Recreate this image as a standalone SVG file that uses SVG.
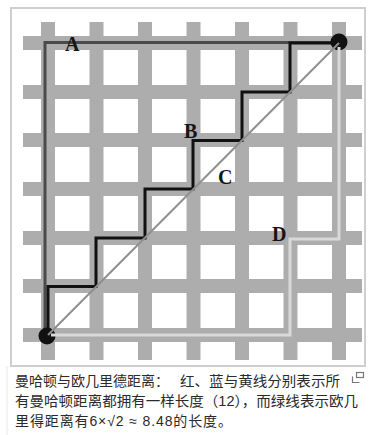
<svg xmlns="http://www.w3.org/2000/svg" width="371" height="435" viewBox="0 0 371 435">
<style>
.bar{fill:#adadad}
.lbl{font-family:"Liberation Serif","Times New Roman",serif;font-size:20px;font-weight:bold;fill:#151515}
.cap{font-family:"Liberation Sans","Noto Sans CJK SC",sans-serif;font-size:14px;fill:#2a2a2a}
</style>
<rect width="371" height="435" fill="#fff"/>
<rect x="11" y="8" width="354" height="358" fill="#fff" stroke="#cfcfcf" stroke-width="2"/>
<line x1="7" y1="366" x2="7" y2="435" stroke="#e6e6e6" stroke-width="1"/>
<g id="grid">
<rect class="bar" x="23" y="36" width="339" height="14"/>
<rect class="bar" x="23" y="85" width="339" height="14"/>
<rect class="bar" x="23" y="133" width="339" height="14"/>
<rect class="bar" x="23" y="182" width="339" height="14"/>
<rect class="bar" x="23" y="231" width="339" height="14"/>
<rect class="bar" x="23" y="279" width="339" height="14"/>
<rect class="bar" x="23" y="328" width="339" height="14"/>
<rect class="bar" x="41" y="22" width="14" height="338"/>
<rect class="bar" x="89.5" y="22" width="14" height="338"/>
<rect class="bar" x="138" y="22" width="14" height="338"/>
<rect class="bar" x="186.5" y="22" width="14" height="338"/>
<rect class="bar" x="235" y="22" width="14" height="338"/>
<rect class="bar" x="283.5" y="22" width="14" height="338"/>
<rect class="bar" x="332" y="22" width="14" height="338"/>
</g>
<g id="connectors" fill="none" stroke-linejoin="miter">
<path id="pathA" d="M45,335 V42.5 H336" stroke="#4a4a4a" stroke-width="3"/>
<path id="pathB" d="M339,43 H290 V92 H242 V140.5 H193 V189 H145 V238 H96 V286.5 H48 V335" stroke="#111" stroke-width="3"/>
<circle cx="339" cy="42" r="8.5" fill="#111"/>
<circle cx="47" cy="336" r="8.5" fill="#111"/>
<path id="pathC" d="M48,335 L339,43" stroke="#8f8f8f" stroke-width="2"/>
<path id="pathD" d="M51,335 H290 V239 H339 V47" stroke="#d9d9d9" stroke-width="3"/>
</g>
<g id="labels">
<text class="lbl" x="65" y="51">A</text>
<text class="lbl" x="184" y="138">B</text>
<text class="lbl" x="218" y="184">C</text>
<text class="lbl" x="272" y="241">D</text>
</g>
<g id="caption">
<text class="cap" x="15" y="386">曼哈顿与欧几里德距离：</text>
<text class="cap" x="180" y="386" textLength="160" lengthAdjust="spacingAndGlyphs">红、蓝与黄线分别表示所</text>
<text class="cap" x="15" y="406" textLength="343" lengthAdjust="spacingAndGlyphs">有曼哈顿距离都拥有一样长度（12），而绿线表示欧几</text>
<text class="cap" x="15" y="426" textLength="217" lengthAdjust="spacing">里得距离有6×√2 ≈ 8.48的长度。</text>
<g id="icon" fill="none" stroke="#777" stroke-width="1.2">
<rect x="356.5" y="372.5" width="7" height="5"/>
<path d="M352.5,376.5 V382.5 H359.5"/>
</g>
</g>
</svg>
